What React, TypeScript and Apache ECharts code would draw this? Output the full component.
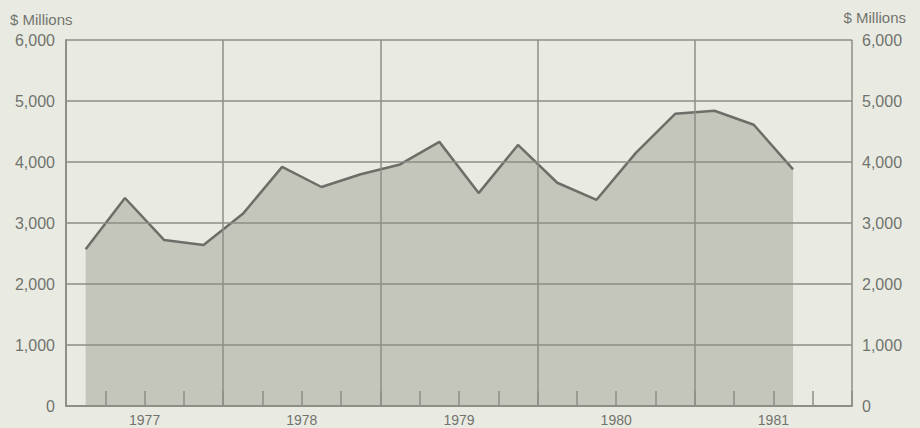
import React, { useEffect, useRef } from "react";
import * as echarts from "echarts";

const years = ["1977", "1978", "1979", "1980", "1981"];
const quarterIndex = [0, 1, 2, 3, 4, 5, 6, 7, 8, 9, 10, 11, 12, 13, 14, 15, 16, 17, 18];
const values = [2570, 3410, 2720, 2640, 3150, 3920, 3590, 3800, 3960, 4330, 3490, 4280, 3660, 3380, 4150, 4790, 4840, 4610, 3880];
const yTicks = [0, 1000, 2000, 3000, 4000, 5000, 6000];
const unitLabel = "$ Millions";

const TEXT = "#71736d";
const GRID = "#8c8e87";
const FONT = "'Liberation Sans', Arial, sans-serif";

export default function App() {
  const ref = useRef<HTMLDivElement>(null);
  useEffect(() => {
    document.body.style.margin = "0";
    const chart = echarts.init(ref.current!, undefined, { renderer: "svg" });
    const fmt = (v: number) => v.toLocaleString("en-US");
    const yAxisBase = {
      type: "value" as const,
      z: 5,
      min: yTicks[0],
      max: yTicks[yTicks.length - 1],
      interval: 1000,
      axisLine: { show: true, lineStyle: { color: GRID, width: 1.5 } },
      axisTick: { show: false },
      splitLine: { show: true, lineStyle: { color: GRID, width: 1.5 } },
      axisLabel: { color: TEXT, fontSize: 16, fontFamily: FONT, formatter: fmt },
    };
    chart.setOption({
      animation: false,
      backgroundColor: "#e9ebe3",
      grid: { left: 66, right: 68, top: 40, bottom: 22 },
      xAxis: [
        {
          type: "value",
          z: 5,
          min: 0,
          max: years.length * 4,
          interval: 4,
          position: "bottom",
          axisLine: { show: true, lineStyle: { color: GRID, width: 2 } },
          axisTick: { show: false },
          axisLabel: { show: false },
          splitLine: { show: true, lineStyle: { color: GRID, width: 1.5 } },
        },
        {
          type: "value",
          z: 5,
          min: 0,
          max: years.length * 4,
          interval: 1,
          position: "bottom",
          axisLine: { show: false },
          axisTick: { show: true, inside: true, length: 15, lineStyle: { color: GRID, width: 1.5 } },
          splitLine: { show: false },
          axisLabel: {
            color: TEXT,
            fontSize: 14,
            fontFamily: FONT,
            margin: 7,
            formatter: (v: number) => (v % 4 === 2 ? years[(v - 2) / 4] : ""),
          },
        },
      ],
      yAxis: [
        { ...yAxisBase, position: "left", axisLabel: { ...yAxisBase.axisLabel, margin: 11 } },
        { ...yAxisBase, position: "right", splitLine: { show: false }, axisLabel: { ...yAxisBase.axisLabel, margin: 10 } },
      ],
      graphic: [
        { type: "text", left: 10, top: 12, style: { text: unitLabel, fill: TEXT, font: `15px ${FONT}` } },
        { type: "text", right: 14, top: 10, style: { text: unitLabel, fill: TEXT, font: `15px ${FONT}` } },
      ],
      series: [
        {
          type: "line",
          xAxisIndex: 0,
          yAxisIndex: 0,
          data: quarterIndex.map((q, i) => [q + 0.5, values[i]]),
          symbol: "none",
          lineStyle: { color: "#6c6f68", width: 2.5 },
          areaStyle: { color: "#c4c6bb", opacity: 1 },
          z: 1,
        },
      ],
    });
    return () => chart.dispose();
  }, []);
  return <div ref={ref} style={{ position: "fixed", left: 0, top: 0, width: 920, height: 428 }} />;
}
